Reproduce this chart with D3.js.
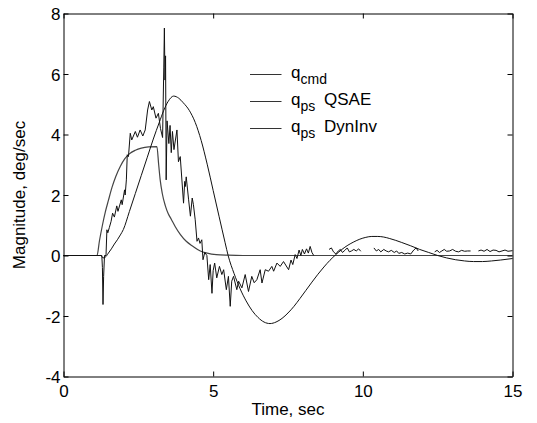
<!DOCTYPE html>
<html>
<head>
<meta charset="utf-8">
<script src="https://cdn.jsdelivr.net/npm/d3@7"></script>
<style>
  html, body { margin: 0; padding: 0; background: #fff; }
  svg { display: block; }
  text { font-family: "Liberation Sans", Arial, Helvetica, sans-serif; fill: #000; }
</style>
</head>
<body>
<svg id="chart" width="537" height="423"></svg>
<script>
// Axis ticks
const xTicks = [0, 5, 10, 15];
const yTicks = [-4, -2, 0, 2, 4, 6, 8];

// Pitch-rate command (deg/sec)
const cmdTime  = [0, 1.12, 1.2, 1.3, 1.4, 1.5, 1.62, 1.75, 1.9, 2.05, 2.2, 2.4, 2.6, 2.84, 3.12,
                  3.18, 3.23, 3.3, 3.4, 3.5, 3.6, 3.73, 3.9, 4.1, 4.33, 4.57, 4.8, 5.1, 5.5, 6.0, 15];
const cmdValue = [0, 0, 0.48, 1.0, 1.45, 1.82, 2.25, 2.62, 2.95, 3.2, 3.36, 3.48, 3.55, 3.59, 3.6,
                  3.0, 2.5, 2.05, 1.65, 1.38, 1.2, 0.96, 0.7, 0.47, 0.3, 0.15, 0.08, 0.03, 0.01, 0, 0];

// Pseudo pitch rate, quasi-steady aero estimate (noisy, with dropouts)
const qsaeTime = [0, 1.28, 1.3, 1.32, 1.34, 1.37, 1.42, 1.45, 1.48, 1.53, 1.59, 1.64, 1.7, 1.78, 1.82,
  1.93, 1.96, 2.04, 2.06, 2.1, 2.13, 2.17, 2.23, 2.28, 2.4, 2.47, 2.56, 2.65, 2.73, 2.81, 2.87, 2.95,
  3.0, 3.09, 3.17, 3.24, 3.31, 3.35, 3.37, 3.39, 3.41, 3.43, 3.46, 3.52, 3.56, 3.6, 3.64, 3.69,
  3.79, 3.84, 3.9, 4.01, 4.05, 4.07, 4.1, 4.18, 4.24, 4.3, 4.34, 4.4, 4.46,
  4.51, 4.56, 4.62, 4.66, 4.72, 4.79, 4.85, 4.9, 4.96, 5.0, 5.05, 5.12, 5.21, 5.29, 5.35, 5.44, 5.51,
  5.57, 5.62, 5.68, 5.79, 5.85, 5.96, 6.07, 6.18, 6.29, 6.37, 6.46, 6.57, 6.63, 6.74, 6.85, 6.96, 7.02,
  7.13, 7.24, 7.35, 7.52, 7.6, 7.66, 7.74, 7.8, 7.87, 7.93, 7.98, 8.05, 8.12, 8.18, 8.24, 8.3, 8.36,
  8.6,
  8.87, 8.95, 9.02, 9.1, 9.18, 9.25, 9.32, 9.4, 9.48, 9.55, 9.62, 9.7, 9.78, 9.86, 9.93,
  10.15,
  10.37, 10.45, 10.53, 10.6, 10.7, 10.78, 10.86, 10.95, 11.05, 11.13, 11.2, 11.3, 11.4, 11.5, 11.6,
  11.7, 11.78, 11.85,
  12.1,
  12.4, 12.48, 12.56, 12.64, 12.72, 12.8, 12.9, 13.0, 13.1, 13.2, 13.3, 13.4, 13.5, 13.6,
  13.75,
  13.86, 13.95, 14.05, 14.15, 14.25, 14.35, 14.45, 14.55, 14.65, 14.75, 14.85, 15];
const qsaeValue = [0, 0, -0.4, -1.62, -0.7, 0.0, 0.0, 0.85, 0.75, 0.92, 1.13, 1.4, 1.27, 1.64, 1.46,
  1.84, 1.68, 2.17, 2.0, 2.5, 3.33, 3.27, 4.04, 3.82, 4.1, 3.91, 4.15, 3.95, 4.15, 4.81, 5.09, 4.81,
  4.92, 4.54, 4.7, 4.2, 3.9, 6.2, 7.52, 5.8, 6.6, 2.5, 4.45, 3.7, 4.3, 3.4, 4.1, 3.5,
  4.15, 3.1, 3.27, 1.73, 2.45, 2.28, 2.6, 1.84, 1.3, 1.9, 1.68, 1.18, 0.47,
  0.58, 0.4, 0.52, -0.14, 0.1, 0.0, -0.8, -0.3, -1.25, -0.5, -0.25, -0.74, -0.36, -0.63, -0.47, -1.13, -0.69,
  -1.68, -0.85, -0.69, -1.13, -0.85, -1.07, -0.63, -1.19, -0.69, -0.9, -0.8, -0.47, -0.91, -0.47, -0.52, -0.36, -0.52,
  -0.25, -0.36, -0.2, -0.47, -0.15, -0.3, 0.03, -0.1, 0.18, 0.0, 0.2, 0.05, 0.22, 0.08, 0.3, 0.1, 0.0,
  null,
  0.2, 0.25, 0.12, 0.05, 0.15, 0.2, 0.1, 0.17, 0.25, 0.12, 0.15, 0.2, 0.15, 0.22, 0.14,
  null,
  0.25, 0.15, 0.2, 0.12, 0.2, 0.15, 0.12, 0.17, 0.1, 0.15, 0.07, 0.1, 0.05, 0.08, 0.05,
  0.18, 0.25, 0.15,
  null,
  0.12, 0.17, 0.1, 0.15, 0.2, 0.14, 0.15, 0.2, 0.14, 0.12, 0.17, 0.14, 0.15, 0.15,
  null,
  0.15, 0.18, 0.14, 0.2, 0.13, 0.18, 0.17, 0.12, 0.15, 0.18, 0.14, 0.16];

// Pseudo pitch rate, dynamic inversion estimate (smooth)
const dynTime  = [0, 1.25, 1.32, 1.39, 1.5, 1.6, 1.7, 1.8, 1.9, 2.0, 2.2, 2.4, 2.6, 2.8, 3.0, 3.2, 3.35,
  3.5, 3.68, 3.85, 4.0, 4.2, 4.4, 4.6, 4.8, 5.0, 5.2, 5.4, 5.5, 5.7, 5.9, 6.1, 6.3, 6.5, 6.7, 6.9, 7.1,
  7.3, 7.5, 7.7, 7.9, 8.1, 8.3, 8.5, 8.7, 8.9, 9.1, 9.3, 9.5, 9.7, 9.9, 10.1, 10.3, 10.5, 10.7, 10.9,
  11.1, 11.3, 11.6, 11.9, 12.2, 12.5, 12.8, 13.1, 13.4, 13.7, 14.0, 14.3, 14.6, 15];
const dynValue = [0, 0, -0.08, -0.06, 0.08, 0.22, 0.38, 0.52, 0.68, 0.86, 1.45, 2.05, 2.65, 3.25, 3.85, 4.4, 4.8,
  5.1, 5.27, 5.2, 5.05, 4.8, 4.4, 3.8, 3.02, 2.15, 1.28, 0.42, 0.0, -0.6, -1.1, -1.5, -1.82, -2.05, -2.2, -2.25, -2.2,
  -2.08, -1.9, -1.68, -1.42, -1.15, -0.88, -0.62, -0.38, -0.16, 0.03, 0.2, 0.34, 0.45, 0.54, 0.6, 0.63, 0.63, 0.61, 0.56,
  0.5, 0.43, 0.32, 0.2, 0.1, 0.0, -0.08, -0.14, -0.18, -0.2, -0.2, -0.18, -0.15, -0.1];

// Legend entries: base symbol, subscript, trailing label
const legendSubs  = ["cmd", "ps", "ps"];
const legendTails = ["", "QSAE", "DynInv"];

const svg = d3.select("#chart");
svg.append("rect").attr("width", 537).attr("height", 423).attr("fill", "#fff");

const plotLeft = 63.5, plotRight = 512.5, plotTop = 13.5, plotBottom = 376.5;
const x = d3.scaleLinear().domain([0, 15]).range([plotLeft, plotRight]);
const y = d3.scaleLinear().domain([-4, 8]).range([plotBottom, plotTop]);

const zip = (ts, vs) => ts.map((t, i) => [t, vs[i]]);

const plot = svg.append("g");
const smooth = d3.line().x(d => x(d[0])).y(d => y(d[1])).curve(d3.curveMonotoneX);
const raw = d3.line().defined(d => d[1] !== null).x(d => x(d[0])).y(d => y(d[1]));

plot.append("path").datum(zip(cmdTime, cmdValue)).attr("d", smooth)
  .attr("fill", "none").attr("stroke", "#444").attr("stroke-width", 1.2);
plot.append("path").datum(zip(dynTime, dynValue)).attr("d", smooth)
  .attr("fill", "none").attr("stroke", "#111").attr("stroke-width", 1);
plot.append("path").datum(zip(qsaeTime, qsaeValue)).attr("d", raw)
  .attr("fill", "none").attr("stroke", "#111").attr("stroke-width", 1)
  .attr("stroke-linejoin", "round");

// Frame with inward ticks on all four sides (plain hyphen for negatives)
const fontSize = 17;
const plainFormat = d => String(d);
const axB = svg.append("g").attr("transform", `translate(0,${plotBottom})`)
  .call(d3.axisBottom(x).tickValues(xTicks).tickSizeInner(-5).tickSizeOuter(0).tickPadding(8).tickFormat(plainFormat));
const axT = svg.append("g").attr("transform", `translate(0,${plotTop})`)
  .call(d3.axisTop(x).tickValues(xTicks).tickSizeInner(-5).tickSizeOuter(0).tickFormat(""));
const axL = svg.append("g").attr("transform", `translate(${plotLeft},0)`)
  .call(d3.axisLeft(y).tickValues(yTicks).tickSizeInner(-5).tickSizeOuter(0).tickPadding(3).tickFormat(plainFormat));
const axR = svg.append("g").attr("transform", `translate(${plotRight},0)`)
  .call(d3.axisRight(y).tickValues(yTicks).tickSizeInner(-5).tickSizeOuter(0).tickFormat(""));

[axB, axT, axL, axR].forEach(g => {
  g.selectAll(".domain").attr("stroke", "#000");
  g.selectAll(".tick line").attr("stroke", "#000");
  g.selectAll(".tick text").attr("fill", "#000")
    .style("font-family", '"Liberation Sans", Arial, sans-serif').style("font-size", fontSize + "px");
});
axB.selectAll(".tick text").attr("dy", null).attr("y", 20.5);
axL.selectAll(".tick text").attr("dy", "0.36em");

// Axis titles
svg.append("text").attr("x", (plotLeft + plotRight) / 2).attr("y", 415)
  .attr("text-anchor", "middle").style("font-size", fontSize + "px").text("Time, sec");
svg.append("text").attr("transform", `translate(25,${(plotTop + plotBottom) / 2}) rotate(-90)`)
  .attr("text-anchor", "middle").style("font-size", fontSize + "px").text("Magnitude, deg/sec");

// Legend
const legendY = [74.5, 101.5, 128.5];
const legend = svg.append("g");
legendSubs.forEach((sub, i) => {
  const yy = legendY[i];
  legend.append("line").attr("x1", 250).attr("x2", 281.5).attr("y1", yy).attr("y2", yy)
    .attr("stroke", "#333").attr("stroke-width", 1);
  const t = legend.append("text").attr("x", 291).attr("y", yy + 3).style("font-size", fontSize + "px");
  t.append("tspan").text("q");
  t.append("tspan").attr("dy", 6).style("font-size", "14px").text(sub);
  if (legendTails[i]) {
    t.append("tspan").attr("x", 324).attr("dy", -6).style("font-size", fontSize + "px").text(legendTails[i]);
  }
});
</script>
</body>
</html>
